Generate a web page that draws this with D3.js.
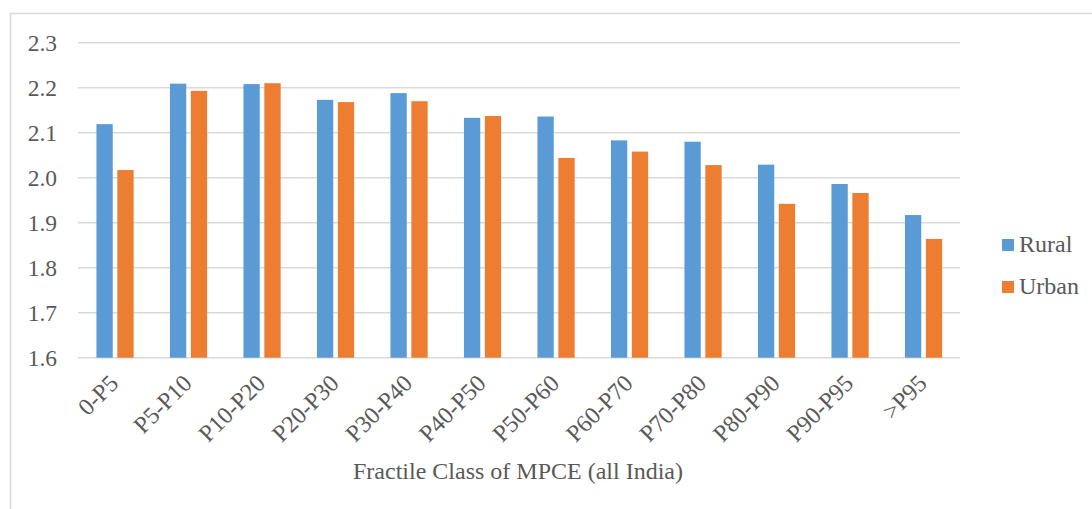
<!DOCTYPE html>
<html>
<head>
<meta charset="utf-8">
<script src="https://cdn.jsdelivr.net/npm/d3@7"></script>
<style>
  html, body { margin: 0; padding: 0; background: #fff; }
  svg { display: block; }
  text { font-family: "Liberation Serif", "Times New Roman", serif; fill: #595959; }
</style>
</head>
<body>
<svg id="chart" width="1092" height="509"></svg>
<script>
const categories = ["0-P5", "P5-P10", "P10-P20", "P20-P30", "P30-P40", "P40-P50", "P50-P60", "P60-P70", "P70-P80", "P80-P90", "P90-P95", ">P95"];
const rural = [2.119, 2.209, 2.208, 2.173, 2.188, 2.133, 2.136, 2.083, 2.080, 2.029, 1.986, 1.917];
const urban = [2.017, 2.193, 2.210, 2.168, 2.170, 2.137, 2.044, 2.058, 2.028, 1.942, 1.966, 1.864];
const seriesNames = ["Rural", "Urban"];
const colors = ["#5b9bd5", "#ed7d31"];
const yTicks = [1.6, 1.7, 1.8, 1.9, 2.0, 2.1, 2.2, 2.3];

const svg = d3.select("#chart");

// chart border (top and left visible)
svg.append("rect")
  .attr("x", 10.5).attr("y", 13.5)
  .attr("width", 1200).attr("height", 600)
  .attr("fill", "none").attr("stroke", "#d9d9d9").attr("stroke-width", 1.5);

const pLeft = 78, pRight = 960, pTop = 42.7, pBottom = 357.7;
const x = d3.scaleBand().domain(categories).range([pLeft, pRight]);
const y = d3.scaleLinear().domain([1.6, 2.3]).range([pBottom, pTop]);

// gridlines
svg.append("g").selectAll("line").data(yTicks).join("line")
  .attr("x1", pLeft).attr("x2", pRight)
  .attr("y1", d => y(d)).attr("y2", d => y(d))
  .attr("stroke", "#d9d9d9").attr("stroke-width", 1.5);

// y labels
svg.append("g").selectAll("text").data(yTicks).join("text")
  .attr("x", 57).attr("y", d => y(d) + 8.5)
  .attr("text-anchor", "end")
  .attr("font-size", 23.5)
  .text(d => d.toFixed(1));

const barW = 16.3, gap = 4.6;
const series = [rural, urban];
series.forEach((vals, si) => {
  svg.append("g").selectAll("rect").data(categories).join("rect")
    .attr("x", (c) => {
      const cx = x(c) + x.bandwidth() / 2 + 0.3;
      return si === 0 ? cx - gap / 2 - barW : cx + gap / 2;
    })
    .attr("y", (c, i) => y(vals[i]))
    .attr("width", barW)
    .attr("height", (c, i) => pBottom - y(vals[i]))
    .attr("fill", colors[si]);
});

// x tick labels rotated
svg.append("g").selectAll("text").data(categories).join("text")
  .attr("transform", c => `translate(${x(c) + x.bandwidth() / 2 + 5},${pBottom + 27}) rotate(-45)`)
  .attr("text-anchor", "end")
  .attr("font-size", 24)
  .text(c => c);

// x title
svg.append("text")
  .attr("x", 518).attr("y", 479)
  .attr("text-anchor", "middle")
  .attr("font-size", 24)
  .text("Fractile Class of MPCE (all India)");

// legend
const leg = svg.append("g");
seriesNames.forEach((n, i) => {
  const ly = 239 + i * 42;
  leg.append("rect").attr("x", 1002).attr("y", ly).attr("width", 12).attr("height", 12).attr("fill", colors[i]);
  leg.append("text").attr("x", 1019).attr("y", ly + 12.5).attr("font-size", 24).text(n);
});
</script>
</body>
</html>
